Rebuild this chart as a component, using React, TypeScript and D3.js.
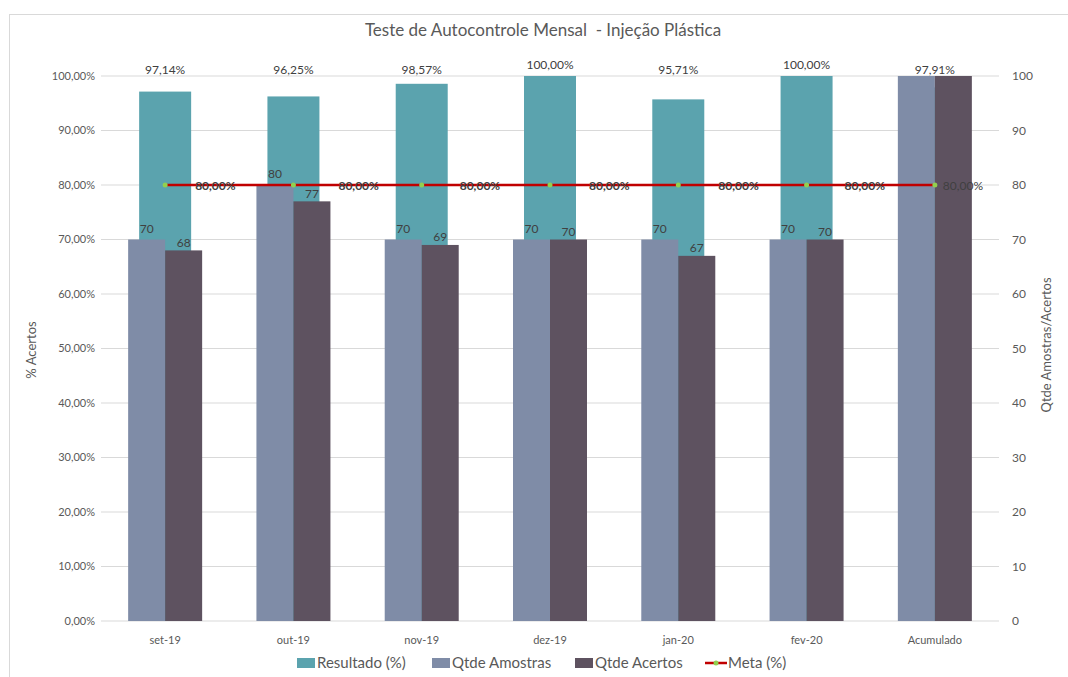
import React from "react";
import * as d3 from "d3";

const categories = ["set-19", "out-19", "nov-19", "dez-19", "jan-20", "fev-20", "Acumulado"];
const resultado = [97.14, 96.25, 98.57, 100, 95.71, 100, 97.91];
const amostras = [70, 80, 70, 70, 70, 70, 430];
const acertos = [68, 77, 69, 70, 67, 70, 421];
const meta = [80, 80, 80, 80, 80, 80, 80];
const leftTicks = [0, 10, 20, 30, 40, 50, 60, 70, 80, 90, 100];
const rightTicks = [0, 10, 20, 30, 40, 50, 60, 70, 80, 90, 100];

const W = 1068;
const H = 677;
const font = "Lato, 'Open Sans', sans-serif";
const txt = "#595959";

const TEAL = "#5ba3ae";
const BLUE = "#7f8ca7";
const PLUM = "#5e5260";
const RED = "#c00000";
const GREEN = "#92d050";

const fmtPct = (v: number) => v.toFixed(2).replace(".", ",") + "%";

// how far right of each point excel put the meta label
const metaLabelDx: Record<string, number> = {
  "set-19": 30,
  "out-19": 45,
  "nov-19": 38,
  "dez-19": 39,
  "jan-20": 40,
  "fev-20": 38,
  Acumulado: 8,
};

export default function App() {
  const x = d3.scaleBand<string>().domain(categories).range([101, 999]).padding(0);
  const yL = d3.scaleLinear().domain([0, 100]).range([621, 76]);
  const yR = d3.scaleLinear().domain([0, 100]).range([621, 76]);
  const cx = (c: string) => (x(c) as number) + x.bandwidth() / 2;

  const tealW = 52;
  const secW = 37;

  const line = d3
    .line<number>()
    .x((_, i) => cx(categories[i]))
    .y((d) => yL(d));

  const clampR = (v: number) => Math.min(v, 100);

  return (
    <div style={{ position: "fixed", left: 0, top: 0 }}>
      <svg width={W} height={H} style={{ display: "block", background: "#fff" }} fontFamily={font}>
        <rect x={9.5} y={14.5} width={1200} height={800} fill="#fff" stroke="#d9d9d9" />

        <text x={543} y={36} textAnchor="middle" fontSize={17} fill={txt} style={{ whiteSpace: "pre" }}>
          {"Teste de Autocontrole Mensal  - Injeção Plástica"}
        </text>

        {/* grid + left ticks */}
        {leftTicks.map((t) => (
          <g key={"l" + t}>
            <line x1={101} x2={999} y1={yL(t)} y2={yL(t)} stroke="#d9d9d9" strokeWidth={1} />
            <text x={95} y={yL(t)} dy="0.35em" textAnchor="end" fontSize={11} fill={txt}>
              {fmtPct(t)}
            </text>
          </g>
        ))}
        {rightTicks.map((t) => (
          <text key={"r" + t} x={1012} y={yR(t)} dy="0.35em" textAnchor="start" fontSize={12} fill={txt}>
            {t}
          </text>
        ))}

        {/* Resultado bars */}
        {categories.map((c, i) => (
          <rect
            key={"t" + c}
            x={cx(c) - tealW / 2}
            y={yL(resultado[i])}
            width={tealW}
            height={yL(0) - yL(resultado[i])}
            fill={TEAL}
          />
        ))}

        {/* Amostras / Acertos bars */}
        {categories.map((c, i) => (
          <g key={"s" + c}>
            <rect
              x={cx(c) - secW}
              y={yR(clampR(amostras[i]))}
              width={secW}
              height={yR(0) - yR(clampR(amostras[i]))}
              fill={BLUE}
            />
            <rect
              x={cx(c)}
              y={yR(clampR(acertos[i]))}
              width={secW}
              height={yR(0) - yR(clampR(acertos[i]))}
              fill={PLUM}
            />
          </g>
        ))}

        {/* Resultado labels */}
        {categories.map((c, i) => (
          <text
            key={"tl" + c}
            x={cx(c)}
            y={Math.min(yL(resultado[i]) - 11, 70)}
            dy="0.35em"
            textAnchor="middle"
            fontSize={12}
            fill="#404040"
          >
            {fmtPct(resultado[i])}
          </text>
        ))}

        {/* count labels */}
        {categories.map((c, i) =>
          amostras[i] <= 100 ? (
            <g key={"sl" + c} fontSize={12} fill="#404040" textAnchor="middle">
              <text x={cx(c) - secW / 2} y={yR(amostras[i]) - 11} dy="0.35em">
                {amostras[i]}
              </text>
              <text x={cx(c) + secW / 2} y={yR(acertos[i]) - 8} dy="0.35em">
                {acertos[i]}
              </text>
            </g>
          ) : null
        )}

        {/* Meta line */}
        <path d={line(meta) as string} fill="none" stroke={RED} strokeWidth={2.5} />
        {categories.map((c, i) => (
          <g key={"m" + c}>
            <circle cx={cx(c)} cy={yL(meta[i])} r={2.5} fill={GREEN} />
            <text
              x={cx(c) + metaLabelDx[c]}
              y={yL(meta[i]) + 1}
              dy="0.35em"
              fontSize={12}
              fontWeight={i < categories.length - 1 ? "bold" : "normal"}
              fill="#404040"
            >
              {fmtPct(meta[i])}
            </text>
          </g>
        ))}

        {/* category axis labels */}
        {categories.map((c) => (
          <text key={"c" + c} x={cx(c)} y={640} dy="0.35em" textAnchor="middle" fontSize={11} fill={txt}>
            {c}
          </text>
        ))}

        {/* axis titles */}
        <text transform="translate(31,350) rotate(-90)" textAnchor="middle" dy="0.35em" fontSize={13} fill={txt}>
          % Acertos
        </text>
        <text transform="translate(1046,345) rotate(-90)" textAnchor="middle" dy="0.35em" fontSize={13} fill={txt}>
          Qtde Amostras/Acertos
        </text>

        {/* legend */}
        <g fontSize={15} fill={txt}>
          <rect x={297} y={658} width={18} height={10} fill={TEAL} />
          <text x={317} y={663} dy="0.35em">Resultado (%)</text>
          <rect x={432} y={658} width={18} height={10} fill={BLUE} />
          <text x={452} y={663} dy="0.35em">Qtde Amostras</text>
          <rect x={575} y={658} width={18} height={10} fill={PLUM} />
          <text x={595} y={663} dy="0.35em">Qtde Acertos</text>
          <line x1={705} x2={727} y1={663} y2={663} stroke={RED} strokeWidth={2.5} />
          <circle cx={716} cy={663} r={2.5} fill={GREEN} />
          <text x={728} y={663} dy="0.35em">Meta (%)</text>
        </g>
      </svg>
    </div>
  );
}
